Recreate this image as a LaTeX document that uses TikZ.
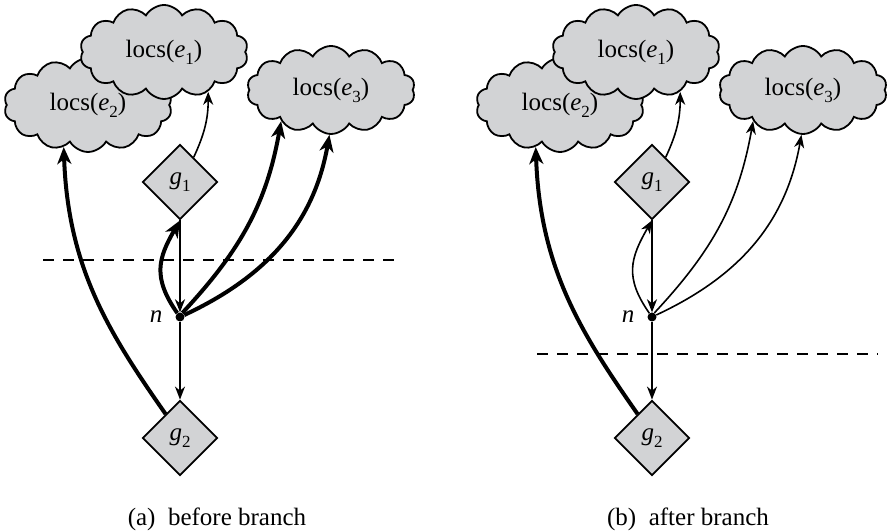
\documentclass[tikz,border=0pt]{standalone}
\usepackage{fontspec}
\setmainfont{Liberation Serif}
\usetikzlibrary{shapes.geometric,shapes.symbols,arrows.meta,calc}
\newcommand\lsub[1]{\raisebox{-0.28em}{\fontsize{17}{17}\selectfont #1}}
\definecolor{shade}{RGB}{210,211,213}
\begin{document}
\begin{tikzpicture}[x=1pt,y=1pt, font=\fontsize{25}{30}\selectfont,
  cloudbox/.style={cloud, cloud puffs=14, cloud puff arc=120, cloud ignores aspect, draw, line width=1.8pt, fill=shade, minimum width=168pt, minimum height=94pt, inner sep=0pt},
  diam/.style={diamond, draw, line width=1.8pt, fill=shade, minimum width=75pt, minimum height=75pt, inner sep=0pt},
  ndot/.style={circle, fill=black, inner sep=0pt, minimum size=9pt},
  thinarr/.style={line width=1.6pt, -{Stealth[length=13pt,width=10pt,inset=4pt]}},
  thickarr/.style={line width=4pt, -{Stealth[length=17pt,width=14pt,inset=5pt]}},
  sep/.style={line width=1.8pt, dash pattern=on 11pt off 9pt}
]
\useasboundingbox (0,0) rectangle (887,532);
% ---------- panel (a) ----------
\node[cloudbox] (e2a) at (88,427) {locs(\textit{e}\lsub{2})};
\node[cloudbox] (e1a) at (164,480) {locs(\textit{e}\lsub{1})};
\node[cloudbox, minimum height=88pt] (e3a) at (331,442) {locs(\textit{e}\lsub{3})};
\node[diam] (g1a) at (180,350) {\textit{g}\lsub{1}};
\node[ndot] (na) at (180,215) {};
\node[anchor=east] (nla) at (166,215) {\textit{n}};
\node[diam] (g2a) at (180,94) {\textit{g}\lsub{2}};
\coordinate (dla) at (43,272);
\coordinate (dra) at (403,272);
\draw[sep] (dla) -- (dra);
\draw[thinarr] (g1a.61) to[out=65,in=-90] (e1a.-42);
\draw[thinarr] (g1a.south) -- (na.north);
\draw[thinarr] (na.south) -- (g2a.north);
\draw[thickarr] (na.125) to[out=125,in=-120,looseness=1.2] (g1a.south);
\draw[thickarr] (na.60) to[out=47,in=-100] (e3a.-148);
\draw[thickarr] (na.25) to[out=25,in=-100] (e3a.-92);
\draw[thickarr] (g2a.121) .. controls +(125:100) and +(-88:120) .. (e2a.-120);
\node (capa) at (217,13) {(a)\ \ before branch};
% ---------- panel (b) ----------
\node[cloudbox] (e2b) at (560,427) {locs(\textit{e}\lsub{2})};
\node[cloudbox] (e1b) at (636,480) {locs(\textit{e}\lsub{1})};
\node[cloudbox, minimum height=88pt] (e3b) at (803,442) {locs(\textit{e}\lsub{3})};
\node[diam] (g1b) at (652,350) {\textit{g}\lsub{1}};
\node[ndot] (nb) at (652,215) {};
\node[anchor=east] (nlb) at (638,215) {\textit{n}};
\node[diam] (g2b) at (652,94) {\textit{g}\lsub{2}};
\coordinate (dlb) at (537,178);
\coordinate (drb) at (878,178);
\draw[sep] (dlb) -- (drb);
\draw[thinarr] (g1b.61) to[out=65,in=-90] (e1b.-42);
\draw[thinarr] (g1b.south) -- (nb.north);
\draw[thinarr] (nb.south) -- (g2b.north);
\draw[thinarr] (nb.125) to[out=125,in=-120,looseness=1.2] (g1b.south);
\draw[thinarr] (nb.60) to[out=47,in=-100] (e3b.-148);
\draw[thinarr] (nb.25) to[out=25,in=-100] (e3b.-92);
\draw[thickarr] (g2b.121) .. controls +(125:100) and +(-88:120) .. (e2b.-120);
\node (capb) at (688,13) {(b)\ \ after branch};
\end{tikzpicture}
\end{document}
